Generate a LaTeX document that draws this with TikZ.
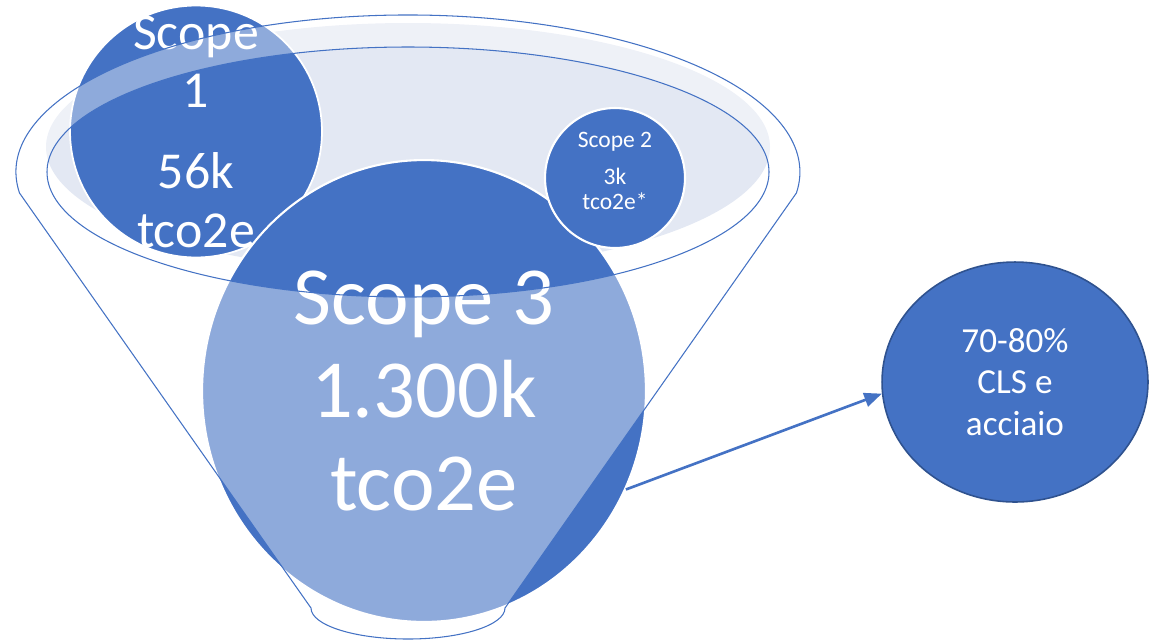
\documentclass[tikz,border=0pt]{standalone}
\usepackage{fontspec}
\setmainfont{Carlito}
\usetikzlibrary{arrows.meta,shapes.geometric}
\definecolor{accent}{RGB}{68,114,196}
\definecolor{accentdark}{RGB}{47,82,143}
\definecolor{rimfill}{RGB}{227,232,243}
\begin{document}
\begin{tikzpicture}[x=0.02cm,y=-0.02cm,
    scopebox/.style={circle,fill=accent,draw=white,text=white,align=center,inner sep=0pt},
    funnel/.style={draw=accent,line width=0.6pt,fill=white,fill opacity=0.4,even odd rule}]
  \useasboundingbox (0,0) rectangle (1149,640);
  % opening of the funnel
  \fill[rimfill] (408,147) ellipse [x radius=362,y radius=124];
  % emissions
  \node[scopebox,line width=1pt,minimum size=5.04cm] (s1) at (196,131.5) {};
  \node[text=white,align=center,inner sep=0pt,
        font=\fontsize{29.5}{33.4}\selectfont] (s1text) at (s1.center)
    {Scope\\1\\[12.5pt]56k\\tco2e};
  \node[scopebox,ellipse,line width=1.2pt,minimum width=8.88cm,minimum height=9.24cm,
        font=\fontsize{47}{53}\selectfont] (s3) at (424,391)
    {Scope 3\\1.300k\\tco2e};
  \node[scopebox,line width=1.2pt,minimum size=2.8cm,text depth=8pt,
        font=\fontsize{13.4}{14.2}\selectfont] (s2) at (615,178)
    {Scope 2\\[6.8pt]3k\\tco2e*};
  % funnel
  \path[funnel] (19.5,193) arc [start angle=172.3,end angle=367.7,x radius=392,y radius=157]
    -- (505,608) arc [start angle=0,end angle=180,x radius=97,y radius=31] -- cycle
    (408,172) ellipse [x radius=361,y radius=125];
  % share
  \node[ellipse,fill=accent,draw=accentdark,line width=0.9pt,text=white,align=center,
        minimum width=5.32cm,minimum height=4.8cm,
        font=\fontsize{20}{23.8}\selectfont] (res) at (1015,382)
    {70-80\%\\CLS e\\acciaio};
  \draw[accent,line width=1.5pt,-{Triangle[length=10pt,width=8pt]}] (s3.-26.6) -- (res.185);
\end{tikzpicture}
\end{document}
